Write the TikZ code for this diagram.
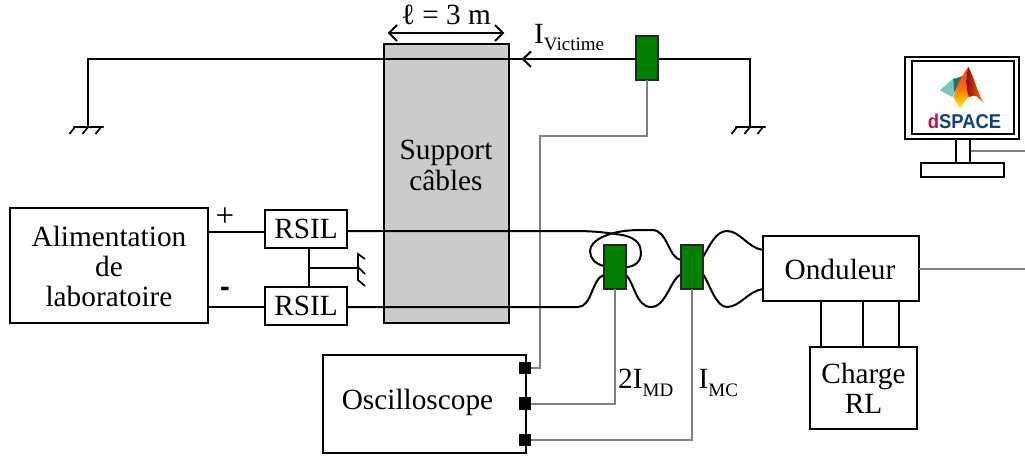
\documentclass[tikz,border=0pt]{standalone}
\usepackage{fontspec}
\setmainfont{Liberation Serif}
\newfontfamily\logofont{Liberation Sans}
\usetikzlibrary{arrows.meta,calc}
\definecolor{sensorgreen}{RGB}{0,128,0}
\definecolor{supportgray}{RGB}{203,203,203}
\definecolor{probegray}{RGB}{128,128,128}
\definecolor{dred}{RGB}{190,20,70}
\definecolor{dblue}{RGB}{15,65,135}
\definecolor{lteal}{RGB}{112,200,190}
\definecolor{dteal}{RGB}{50,105,105}
\newcommand{\sbs}[1]{\raisebox{-0.26em}{\fontsize{19}{19}\selectfont #1}}
\tikzset{
  x=1pt,y=-1pt,
  txt/.style={font=\fontsize{29.3}{33}\selectfont,align=center,inner sep=0pt,text=black},
  box/.style={draw=black,line width=2.2pt,fill=white,inner sep=0pt,outer sep=0pt,anchor=north west},
  sensor/.style={draw=black!85,line width=2.4pt,fill=sensorgreen,minimum width=22pt,minimum height=44pt,inner sep=0pt,outer sep=0pt,anchor=north west},
  port/.style={fill=black,minimum size=12.5pt,inner sep=0pt,outer sep=0pt},
  wire/.style={line width=2pt,black},
  probe/.style={line width=2pt,probegray},
  sty/.style={line width=1.7pt,black},
}
\begin{document}
\begin{tikzpicture}[line join=miter]
\useasboundingbox (0,0) rectangle (1025,455);
\coordinate (edge) at (1025,0);
% Support
\node[box,fill=supportgray,minimum width=125pt,minimum height=279pt] (support) at (384,44) {};
\node[txt] (supporttxt) at (446,165) {Support\\[-2pt]câbles};
% top loop
\coordinate (gl) at (88,128);
\coordinate (gr) at (750,128);
\draw[wire] (gl) -- (88,59) -- (750,59) -- (gr);
\draw[line width=2.2pt,line cap=round] (74,127)--(103,127);
\foreach \i in {75,88,101}{\draw[sty] (\i,127) -- (\i-5.5,134);}
\draw[line width=2.2pt,line cap=round] (736,127)--(765,127);
\foreach \i in {737,750,763}{\draw[sty] (\i,127) -- (\i-5.5,134);}
\draw[line width=2pt] (531,51.5) -- (523,59) -- (531,67);
% dimension
\coordinate (dl) at (389,33);
\coordinate (dr) at (503,33);
\draw[line width=2pt] (dl) -- (dr);
\draw[line width=2pt] (397,25) -- (dl) -- (397,41);
\draw[line width=2pt] (495,25) -- (dr) -- (495,41);
\node[txt] (len) at (446,15) {ℓ = 3 m};
\node[txt,anchor=base west] (ivic) at (534,43) {I\sbs{Victime}};
% probes
\node[sensor] (s1) at (636,36) {};
\node[box,minimum width=203pt,minimum height=98pt] (osc) at (323,355) {};
\node[txt] (osctxt) at (417.5,402) {Oscilloscope};
\node[port] (p1) at (525,368) {};
\node[port] (p2) at (525,403.5) {};
\node[port] (p3) at (525,440) {};
\draw[probe] (s1.south) |- (540,136) -- (540,368) -- (p1);
% alim
\node[box,minimum width=198pt,minimum height=115pt] (alim) at (10,208) {};
\node[txt] (alimtxt) at (109,266) {Alimentation\\[-3pt]de\\[-3pt]laboratoire};
\node[box,minimum width=82pt,minimum height=38pt,txt] (r1) at (265,210) {RSIL};
\node[box,minimum width=82pt,minimum height=38pt,txt] (r2) at (265,287) {RSIL};
\draw[wire] (208,232) -- (r1.west |- 0,232);
\draw[wire] (208,307) -- (r2.west |- 0,307);
\node[inner sep=0pt,font=\fontsize{33}{33}\selectfont] (plus) at (225,217) {+};
\node[inner sep=0pt,font=\logofont\bfseries\fontsize{29}{33}\selectfont] (minus) at (225,292) {-};
\draw[wire] (r1.south -| 309,0) -- (r2.north -| 309,0);
\draw[wire] (309,268) -- (358,268);
\draw[sty] (365,259) -- (358,254) -- (358,280) -- (365,286);
\draw[sty] (358,267) -- (365,274);
% onduleur
\node[box,minimum width=156pt,minimum height=65pt,txt] (ond) at (763,236) {};
\node[txt] (ondtxt) at (840,269) {Onduleur};
\node[box,minimum width=107pt,minimum height=82pt,txt] (charge) at (810,347) {Charge\\[-3pt]RL};
\draw[wire] (821,301) -- (821,347);
\draw[wire] (863,301) -- (863,347);
\draw[wire] (899,301) -- (899,347);
\draw[probe] (ond.east) -- (ond.east -| edge);
% power wires
\draw[wire] (347,231) -- (575,231) .. controls (595,231) and (610,233) .. (622,235) .. controls (638,238) and (641,246) .. (641,253) .. controls (641,262) and (634,267) .. (626,267);
\draw[wire] (604,266) .. controls (595,264) and (590,258) .. (590,251) .. controls (590,240) and (610,230) .. (640,230) -- (652,230) .. controls (668,230) and (668,258) .. (681,260);
\draw[wire] (347,307) -- (578,307) .. controls (592,307) and (592,278) .. (604,275);
\draw[wire] (626,275) .. controls (634,282) and (636,307) .. (651,307) .. controls (666,307) and (670,280) .. (681,274);
\draw[wire] (703,257) .. controls (710,245) and (716,231) .. (727,231) .. controls (740,231) and (748,248) .. (763,250);
\draw[wire] (703,274) .. controls (710,285) and (716,307) .. (727,307) .. controls (740,307) and (748,291) .. (763,289);
\node[sensor] (s2) at (604,245) {};
\node[sensor] (s3) at (681,245) {};
\draw[probe] (s2.south) |- (p2);
\draw[probe] (s3.south) |- (p3);
\node[txt,anchor=base west] (imd) at (618,388.5) {2I\sbs{MD}};
\node[txt,anchor=base west] (imc) at (698.5,388.5) {I\sbs{MC}};
% monitor
\draw[probe] (970,151) -- (edge |- 0,151);
\node[box,line width=2.4pt,minimum width=114pt,minimum height=82pt] (mon) at (905,57) {};
\node[box,line width=2.4pt,minimum width=102pt,minimum height=73pt] (scr) at (912,61) {};
\node[box,line width=2.4pt,minimum width=14pt,minimum height=24pt] (stem) at (956,139) {};
\node[box,line width=2.4pt,minimum width=83pt,minimum height=14pt] (base) at (921,163) {};
% logo
\begin{scope}[shift={(925,62)},x=.3333pt,y=-.3333pt]
\fill[lteal] (45,85) -- (88,47) -- (105,58) -- (82,105) -- cycle;
\fill[dteal] (85,52) -- (112,42) -- (88,92) -- cycle;
\shade[top color=orange!50!red,bottom color=yellow!90!orange,middle color=orange!85!red] (130,15) .. controls (108,42) and (92,85) .. (85,105) -- (105,140) .. controls (112,128) and (120,112) .. (132,105) .. controls (120,75) and (122,45) .. (130,15) -- cycle;
\shade[left color=red!55!black,right color=orange!90!red] (130,15) .. controls (122,45) and (120,75) .. (132,105) .. controls (140,100) and (150,100) .. (155,103) -- (175,122) .. controls (155,85) and (145,40) .. (130,15) -- cycle;
\end{scope}
\node[inner sep=0pt] (logo) at (964.5,121.5) {\logofont\bfseries\fontsize{20}{20}\selectfont\scalebox{.92}[1]{\textcolor{dred}{d}\textcolor{dblue}{SPACE}}};
\end{tikzpicture}
\end{document}
